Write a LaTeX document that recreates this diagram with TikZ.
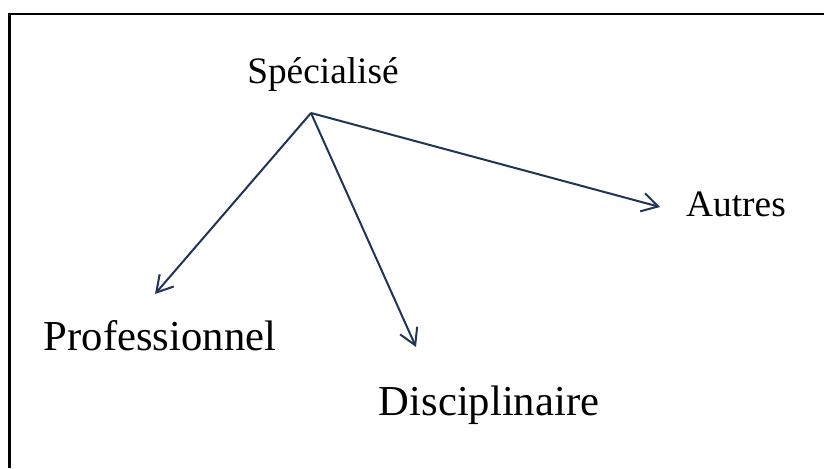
\documentclass[tikz,border=0pt]{standalone}
\usepackage{fontspec}
\setmainfont{Liberation Serif}
\usetikzlibrary{arrows.meta}
\definecolor{navy}{HTML}{1F3557}
\begin{document}
\begin{tikzpicture}[x=0.75pt,y=-0.75pt,
    word/.style={anchor=base,font=\fontsize{28}{34}\selectfont},
    bigword/.style={anchor=base,font=\fontsize{32}{38}\selectfont},
    branch/.style={navy,line width=1.5pt,-{Straight Barb[length=12pt,width=14pt]}}]
  \useasboundingbox (0,0) rectangle (824,468);
  \draw[line width=1.6pt] (9.5,468) -- (9.5,14) -- (824,14);
  \node[word] (spec) at (323,83) {Spécialisé};
  \node[word] (autres) at (736,216) {Autres};
  \node[bigword] (prof) at (160,350) {Professionnel};
  \node[bigword] (disc) at (489,415) {Disciplinaire};
  \coordinate (root) at (311,113);
  \coordinate (profTip) at (155,294);
  \coordinate (discTip) at (416,347);
  \coordinate (autTip) at (660,207);
  \draw[branch] (root) -- (profTip);
  \draw[branch] (root) -- (discTip);
  \draw[branch] (root) -- (autTip);
\end{tikzpicture}
\end{document}
